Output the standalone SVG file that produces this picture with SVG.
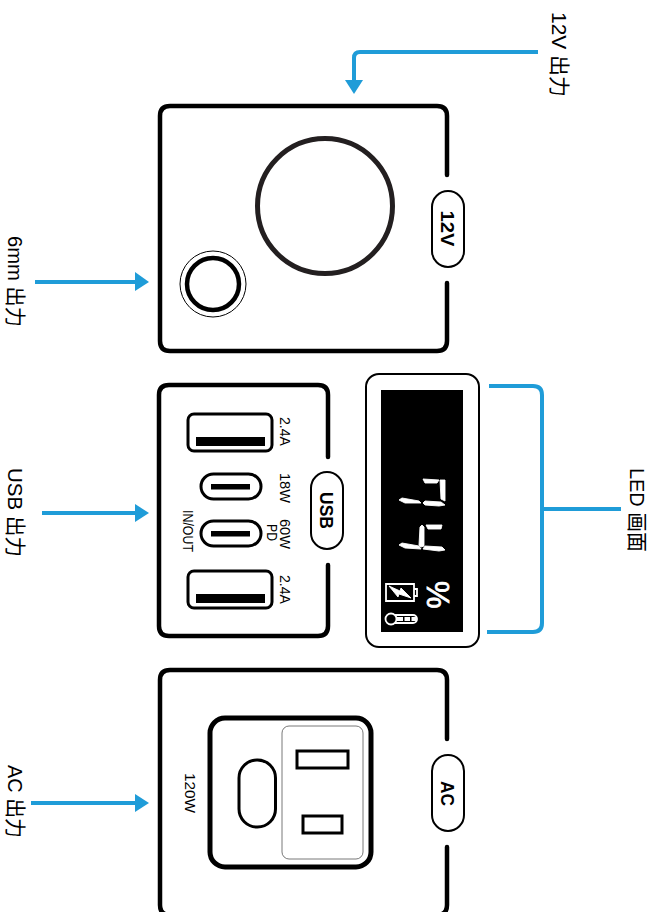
<svg xmlns="http://www.w3.org/2000/svg" width="655" height="912" viewBox="0 0 655 912">
<style>
.box{fill:none;stroke:#000;stroke-width:4.5;stroke-linecap:round;stroke-linejoin:round}
.pill{fill:#fff;stroke:#000;stroke-width:2}
.port{fill:#fff;stroke:#000;stroke-width:3}
.conn{fill:none;stroke:#1f9cd8;stroke-width:4}
.head{fill:#1f9cd8}
text{font-family:"Liberation Sans","Noto Sans CJK SC",sans-serif;fill:#000}
.lab{font-size:21px}
.tag{font-size:18px;font-weight:bold}
.sm{font-size:15px}
.seg{fill:#fff;stroke:#fff;stroke-width:.9;stroke-linejoin:round}
</style>
<rect width="655" height="912" fill="#fff"/>
<g id="connectors">
<path class="conn" d="M538 52H360Q354 52 354 58V82"/><polygon class="head" points="345,80 363,80 354,94"/>
<path class="conn" d="M35 282H137"/><polygon class="head" points="135,272 135,291 149,282"/>
<path class="conn" d="M42 513H137"/><polygon class="head" points="135,504 135,522 149,513"/>
<path class="conn" d="M31 803H137"/><polygon class="head" points="135,794 135,812 149,803"/>
<path class="conn" d="M489 386H533Q542 386 542 395V623Q542 632 533 632H487M542 509H621"/>
</g>
<g id="label-12v"><text class="lab" textLength="85" lengthAdjust="spacingAndGlyphs" transform="translate(552,12) rotate(90)">12V 出力</text></g>
<g id="label-6mm"><text class="lab" textLength="91" lengthAdjust="spacingAndGlyphs" transform="translate(8,236) rotate(90)">6mm 出力</text></g>
<g id="label-usb"><text class="lab" textLength="89" lengthAdjust="spacingAndGlyphs" transform="translate(8,468) rotate(90)">USB 出力</text></g>
<g id="label-ac"><text class="lab" textLength="73" lengthAdjust="spacingAndGlyphs" transform="translate(8,765) rotate(90)">AC 出力</text></g>
<g id="label-led"><text class="lab" textLength="84" lengthAdjust="spacingAndGlyphs" transform="translate(630,468) rotate(90)">LED 画面</text></g>
<g id="node-12v">
<path class="box" d="M447 175V116Q447 106 437 106H170Q160 106 160 116V341Q160 351 170 351H437Q447 351 447 341V283"/>
<circle cx="325" cy="206" r="67.5" fill="none" stroke="#231f20" stroke-width="5"/>
<circle cx="213" cy="284" r="33" fill="none" stroke="#000" stroke-width="1"/>
<circle cx="213" cy="284" r="26" fill="none" stroke="#000" stroke-width="4.5"/>
<rect class="pill" x="432" y="191" width="32" height="76" rx="16"/>
<text class="tag" textLength="36" lengthAdjust="spacingAndGlyphs" transform="translate(441,210.500) rotate(90)">12V</text>
</g>
<g id="node-usb">
<path class="box" d="M328 457V395Q328 385 318 385H169Q159 385 159 395V626Q159 636 169 636H318Q328 636 328 626V565"/>
<rect class="port" x="188" y="414" width="84" height="37" rx="6"/><rect x="196" y="437" width="69" height="9"/>
<rect class="port" x="188" y="571" width="84" height="37" rx="6"/><rect x="196" y="594" width="69" height="9"/>
<rect class="port" x="201" y="474" width="60" height="25" rx="12.5"/><rect x="211" y="484" width="39" height="5.5"/>
<rect class="port" x="201" y="521" width="60" height="25" rx="12.5"/><rect x="211" y="531" width="39" height="5.5"/>
<rect class="pill" x="311" y="472" width="32" height="77" rx="16"/>
<text class="tag" textLength="37" lengthAdjust="spacingAndGlyphs" transform="translate(320,492) rotate(90)">USB</text>
<text class="sm" textLength="29" lengthAdjust="spacingAndGlyphs" transform="translate(280,417) rotate(90)">2.4A</text>
<text class="sm" textLength="30" lengthAdjust="spacingAndGlyphs" transform="translate(280,473) rotate(90)">18W</text>
<text class="sm" textLength="30" lengthAdjust="spacingAndGlyphs" transform="translate(280,519) rotate(90)">60W</text>
<text class="sm" textLength="17" lengthAdjust="spacingAndGlyphs" transform="translate(267,524) rotate(90)">PD</text>
<text class="sm" textLength="42" lengthAdjust="spacingAndGlyphs" transform="translate(183,510) rotate(90)">IN/OUT</text>
<text class="sm" textLength="29" lengthAdjust="spacingAndGlyphs" transform="translate(280,575) rotate(90)">2.4A</text>
</g>
<g id="node-led">
<rect x="366" y="374" width="113" height="273" rx="13" fill="#fff" stroke="#000" stroke-width="2"/>
<rect x="381" y="390" width="82" height="242" fill="#000"/>
<polygon class="seg" points="423,479 439,480 437,483 425,483"/>
<polygon class="seg" points="440,480 445,480 445,501 441,499"/>
<polygon class="seg" points="423,503 425,501 441,502 445,505 439,506 425,505"/>
<polygon class="seg" points="399,500 402,498 419,501 421,503 405,503"/>
<polygon class="seg" points="426,525 442,525 441,529 428,529"/>
<polygon class="seg" points="422,525 424,527 424,546 421,547 419,545 420,527"/>
<polygon class="seg" points="399,545 402,543 419,546 421,549 405,548"/>
<polygon class="seg" points="423,549 425,546 442,547 445,550 439,551"/>
<path d="M386 584H414V601H386Z M414 589H417V596H414" fill="none" stroke="#fff" stroke-width="1.8"/>
<polygon class="seg" points="389,586 400,591 401,588 411,598 399,594 398,597"/>
<rect x="386" y="615" width="31" height="8" rx="4" fill="none" stroke="#fff" stroke-width="1.8"/>
<circle cx="391" cy="619" r="5.500" fill="#000" stroke="#fff" stroke-width="1.8"/>
<rect x="397" y="617" width="19" height="4" fill="#fff"/>
<rect x="403" y="617" width="1.5" height="4" fill="#000"/><rect x="410" y="617" width="1.5" height="4" fill="#000"/>
<text transform="translate(427,581) rotate(90)" font-size="31" style="fill:#fff;stroke:#fff;stroke-width:.8">%</text>
</g>
<g id="node-ac">
<path class="box" d="M447 739V680Q447 670 437 670H170Q160 670 160 680V905Q160 915 170 915H437Q447 915 447 905V847"/>
<rect x="210" y="718" width="161" height="149" rx="15" fill="#fff" stroke="#000" stroke-width="5"/>
<rect x="282" y="726" width="81" height="133" rx="7" fill="#fff" stroke="#555" stroke-width="0.8"/>
<rect class="port" x="239" y="760" width="36.500" height="67" rx="18"/>
<rect class="port" x="297" y="751" width="51" height="17"/>
<rect class="port" x="303" y="816" width="39" height="17"/>
<rect class="pill" x="432" y="755" width="32" height="76" rx="16"/>
<text class="tag" textLength="25" lengthAdjust="spacingAndGlyphs" transform="translate(441,781) rotate(90)">AC</text>
<text class="sm" textLength="40" lengthAdjust="spacingAndGlyphs" transform="translate(185,773) rotate(90)">120W</text>
</g>
</svg>
